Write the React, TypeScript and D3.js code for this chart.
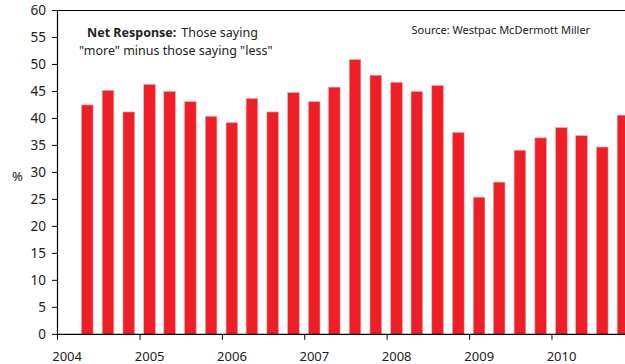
import React from "react";
import * as d3 from "d3";

const periods = [
  "2004-05", "2004-08", "2004-11",
  "2005-02", "2005-05", "2005-08", "2005-11",
  "2006-02", "2006-05", "2006-08", "2006-11",
  "2007-02", "2007-05", "2007-08", "2007-11",
  "2008-02", "2008-05", "2008-08", "2008-11",
  "2009-02", "2009-05", "2009-08", "2009-11",
  "2010-02", "2010-05", "2010-08", "2010-11",
];
const netResponse = [
  42.5, 45.2, 41.2,
  46.3, 45.0, 43.1, 40.4,
  39.2, 43.7, 41.2, 44.8,
  43.1, 45.8, 50.9, 48.0,
  46.7, 45.0, 46.1, 37.4,
  25.4, 28.2, 34.1, 36.4,
  38.3, 36.8, 34.7, 40.6,
];
const yTicks = [0, 5, 10, 15, 20, 25, 30, 35, 40, 45, 50, 55, 60];
const xTickYears = [2004, 2005, 2006, 2007, 2008, 2009, 2010];

const W = 625;
const H = 364;
const FONT = "'Noto Sans', 'Open Sans', sans-serif";

export default function App() {
  const left = 57.5;
  const top = 10.5;
  const bottom = 334.3;
  const yearPx = 82.4;

  const parse = (s: string) => {
    const [y, m] = s.split("-").map(Number);
    return new Date(y, m - 1, 12);
  };
  const x = d3
    .scaleTime()
    .domain([new Date(2004, 0, 1), new Date(2011, 0, 1)])
    .range([left, left + 7 * yearPx]);
  const y = d3.scaleLinear().domain([0, 60]).range([bottom, top]);
  const barW = 11.6;

  return (
    <svg
      width={W}
      height={H}
      style={{ position: "absolute", left: 0, top: 0, background: "#fff" }}
      fontFamily={FONT}
    >
      {periods.map((p, i) => {
        const cx = x(parse(p));
        return (
          <rect
            key={p}
            x={cx - barW / 2}
            y={y(netResponse[i])}
            width={barW}
            height={y(0) - y(netResponse[i])}
            fill="#ee1f27"
            stroke="#f5a3a6"
            strokeWidth={0.6}
          />
        );
      })}
      {/* frame */}
      <line x1={left} x2={W} y1={top} y2={top} stroke="#000" strokeWidth={1.2} />
      <line x1={left} x2={left} y1={top} y2={bottom} stroke="#000" strokeWidth={1.2} />
      <line x1={left} x2={W} y1={bottom} y2={bottom} stroke="#000" strokeWidth={1.2} />
      {/* y ticks */}
      {yTicks.map((t) => (
        <g key={t}>
          <line x1={left - 5.5} x2={left} y1={y(t)} y2={y(t)} stroke="#000" strokeWidth={1} />
          <text x={46} y={y(t)} dy="0.36em" textAnchor="end" fontSize={13.5} fill="#222">
            {t}
          </text>
        </g>
      ))}
      <text x={17.5} y={176} dy="0.36em" textAnchor="middle" fontSize={13} fill="#222">
        %
      </text>
      {/* x ticks */}
      {xTickYears.map((yr) => {
        const xx = x(new Date(yr, 0, 1));
        return (
          <g key={yr}>
            <line x1={xx} x2={xx} y1={bottom} y2={bottom + 5.5} stroke="#000" strokeWidth={1} />
            <text x={xx + 9.6} y={360.5} textAnchor="middle" fontSize={13} fill="#222">
              {yr}
            </text>
          </g>
        );
      })}
      {/* annotations */}
      <text x={87} y={37} fontSize={12.5} fill="#222">
        <tspan fontWeight="bold">Net Response:</tspan>
        <tspan dx={5}>Those saying</tspan>
      </text>
      <text x={79} y={55} fontSize={12.5} fill="#222">
        "more" minus those saying "less"
      </text>
      <text x={411.5} y={34} fontSize={11} fill="#222">
        Source:  Westpac McDermott Miller
      </text>
    </svg>
  );
}
